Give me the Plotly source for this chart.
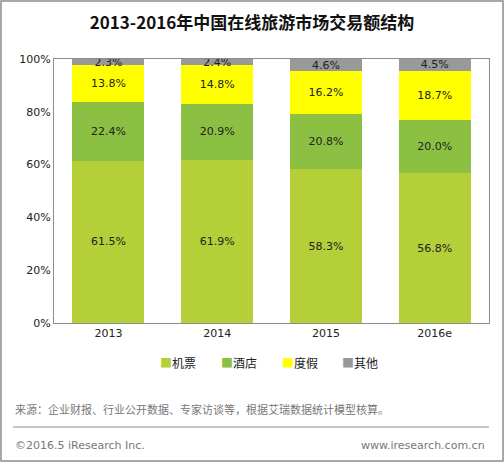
import plotly.graph_objects as go

years = ["2013", "2014", "2015", "2016e"]
flights = [61.5, 61.9, 58.3, 56.8]
hotels = [22.4, 20.9, 20.8, 20.0]
holidays = [13.8, 14.8, 16.2, 18.7]
others = [2.3, 2.4, 4.6, 4.5]

series = [
    ("机票", flights, "#b4cf38"),
    ("酒店", hotels, "#8cc043"),
    ("度假", holidays, "#ffff00"),
    ("其他", others, "#999999"),
]

font_family = "DejaVu Sans, Noto Sans CJK SC, sans-serif"

fig = go.Figure()
for name, values, color in series:
    fig.add_trace(go.Bar(
        x=years,
        y=values,
        name=name,
        marker=dict(color=color, line=dict(width=0)),
        text=[f"{v:.1f}%" for v in values],
        textposition="inside",
        insidetextanchor="middle",
        constraintext="none",
        textfont=dict(size=11, color="#222222", family=font_family),
        showlegend=False,
    ))

# plot area is 54..489 px across and 59..323 px down
def px(x):
    return (x - 54) / 435

def py(y):
    return (323 - y) / 264

# legend drawn as small coloured squares next to the names
legend_x = [158, 219, 280, 340]
legend_notes = [
    dict(text=f"<span style='color:{color}'>■</span>{name}",
         xref="paper", yref="paper", x=px(lx), y=py(362),
         xanchor="left", yanchor="middle", showarrow=False,
         font=dict(size=12, color="#222222", family="Noto Sans CJK SC"))
    for (name, _, color), lx in zip(series, legend_x)
]

fig.update_layout(
    width=504,
    height=462,
    barmode="stack",
    bargap=0.34,
    margin=dict(l=54, r=15, t=59, b=139),
    paper_bgcolor="white",
    plot_bgcolor="white",
    font=dict(family=font_family, size=11, color="#222222"),
    title=dict(
        text="<b>2013-2016年中国在线旅游市场交易额结构</b>",
        x=0.5, xanchor="center",
        y=1 - 23 / 462, yanchor="middle",
        font=dict(size=17, color="#111111", family="Noto Sans CJK SC, DejaVu Sans"),
    ),
    shapes=[
        dict(type="rect", xref="paper", yref="paper",
             x0=px(1), x1=px(503), y0=py(461), y1=py(1),
             line=dict(color="#8c8c8c", width=1.5)),
        dict(type="line", xref="paper", yref="paper",
             x0=px(13), x1=px(489), y0=py(427), y1=py(427),
             line=dict(color="#8c8c8c", width=1)),
    ],
    annotations=legend_notes + [
        dict(text="来源：企业财报、行业公开数据、专家访谈等，根据艾瑞数据统计模型核算。",
             xref="paper", yref="paper", x=px(13), y=py(409),
             xanchor="left", yanchor="middle", showarrow=False,
             font=dict(size=11, color="#777777", family="Noto Sans CJK SC")),
        dict(text="©2016.5 iResearch Inc.",
             xref="paper", yref="paper", x=px(13), y=py(445),
             xanchor="left", yanchor="middle", showarrow=False,
             font=dict(size=11, color="#777777")),
        dict(text="www.iresearch.com.cn",
             xref="paper", yref="paper", x=px(487), y=py(445),
             xanchor="right", yanchor="middle", showarrow=False,
             font=dict(size=11, color="#777777")),
    ],
)

fig.update_xaxes(
    showline=True, linecolor="#8c8c8c", linewidth=1, mirror=True,
    ticks="", showgrid=False,
    tickfont=dict(size=11, color="#222222"),
)
fig.update_yaxes(
    range=[0, 100], dtick=20, ticksuffix="%",
    showline=True, linecolor="#8c8c8c", linewidth=1, mirror=True,
    ticks="", showgrid=False, zeroline=False,
    tickfont=dict(size=11, color="#222222"),
)

fig.write_html("out.html", config={"displayModeBar": False},
               post_script="document.body.style.margin='0';")
